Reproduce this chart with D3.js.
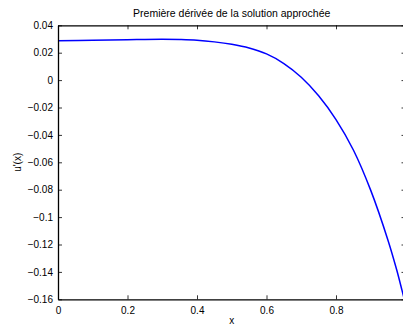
<!DOCTYPE html>
<html>
<head>
<meta charset="utf-8">
<script src="https://cdn.jsdelivr.net/npm/d3@7"></script>
<style>
  html, body { margin: 0; padding: 0; background: #fff; overflow: hidden; }
  svg { display: block; }
  text { font-family: "Liberation Sans", Arial, Helvetica, sans-serif; fill: #000; }
</style>
</head>
<body>
<svg id="chart" width="403" height="329"></svg>
<script>
// Sampled derivative of the approximate solution
const xs = [0, 0.1, 0.2, 0.3, 0.35, 0.4, 0.45, 0.5, 0.55, 0.6, 0.65, 0.7, 0.75, 0.8, 0.85, 0.9, 0.95, 0.975, 0.99, 0.995];
const ys = [0.0288, 0.0291, 0.0295, 0.0298, 0.0296, 0.0291, 0.0279, 0.0261, 0.0234, 0.0191, 0.0121, 0.0021, -0.0114, -0.0288, -0.0510, -0.0805, -0.1172, -0.1388, -0.1535, -0.1584];

const xTicks = [0, 0.2, 0.4, 0.6, 0.8];
const yTicks = [0.04, 0.02, 0, -0.02, -0.04, -0.06, -0.08, -0.1, -0.12, -0.14, -0.16];

const titleText = "Première dérivée de la solution approchée";
const xLabel = "x";
const yLabel = "u'(x)";

const svg = d3.select("#chart");
const mLeft = 58, mRight = 405.5, mTop = 25.3, mBottom = 299.3;

const x = d3.scaleLinear().domain([0, 1]).range([mLeft, mRight]);
const y = d3.scaleLinear().domain([-0.16, 0.04]).range([mBottom, mTop]);

const fmt = v => {
  if (v === 0) return "0";
  const s = String(Math.abs(+v.toFixed(4)));
  return (v < 0 ? "\u2212" : "") + s;
};

// curve
const line = d3.line()
  .x((d, i) => x(xs[i]))
  .y(d => y(d))
  .curve(d3.curveCatmullRom.alpha(0.5));

svg.append("path")
  .datum(ys)
  .attr("d", line)
  .attr("fill", "none")
  .attr("stroke", "#0000ff")
  .attr("stroke-width", 1.5);

// axes: ticks on all four sides pointing inward, labels on bottom and left
const tickLen = 4;
const bottomAxis = d3.axisBottom(x).tickValues(xTicks).tickFormat(fmt).tickSizeInner(-tickLen).tickSizeOuter(0).tickPadding(8);
const topAxis = d3.axisTop(x).tickValues(xTicks).tickFormat("").tickSizeInner(-tickLen).tickSizeOuter(0);
const leftAxis = d3.axisLeft(y).tickValues(yTicks).tickFormat(fmt).tickSizeInner(-tickLen).tickSizeOuter(0).tickPadding(5);
const rightAxis = d3.axisRight(y).tickValues(yTicks).tickFormat("").tickSizeInner(-tickLen).tickSizeOuter(0);

function style(g) {
  g.selectAll("path.domain").attr("stroke", "#000").attr("stroke-width", 1.3);
  g.selectAll(".tick line").attr("stroke", "#000").attr("stroke-width", 0.8);
  g.selectAll("text").attr("font-size", 10).attr("font-family", "Liberation Sans, Arial, sans-serif").attr("fill", "#000");
}

svg.append("g").attr("transform", `translate(0,${mBottom})`).call(bottomAxis).call(style);
svg.append("g").attr("transform", `translate(0,${mTop})`).call(topAxis).call(style);
svg.append("g").attr("transform", `translate(${mLeft},0)`).call(leftAxis).call(style);
svg.append("g").attr("transform", `translate(${mRight},0)`).call(rightAxis).call(style);

// title and axis labels
svg.append("text")
  .attr("x", (mLeft + mRight) / 2)
  .attr("y", 16.5)
  .attr("text-anchor", "middle")
  .attr("font-size", 10.5)
  .text(titleText);

svg.append("text")
  .attr("x", (mLeft + mRight) / 2)
  .attr("y", 324)
  .attr("text-anchor", "middle")
  .attr("font-size", 10)
  .text(xLabel);

svg.append("text")
  .attr("transform", `translate(21,${(mTop + mBottom) / 2}) rotate(-90)`)
  .attr("text-anchor", "middle")
  .attr("font-size", 10)
  .text(yLabel);
</script>
</body>
</html>
